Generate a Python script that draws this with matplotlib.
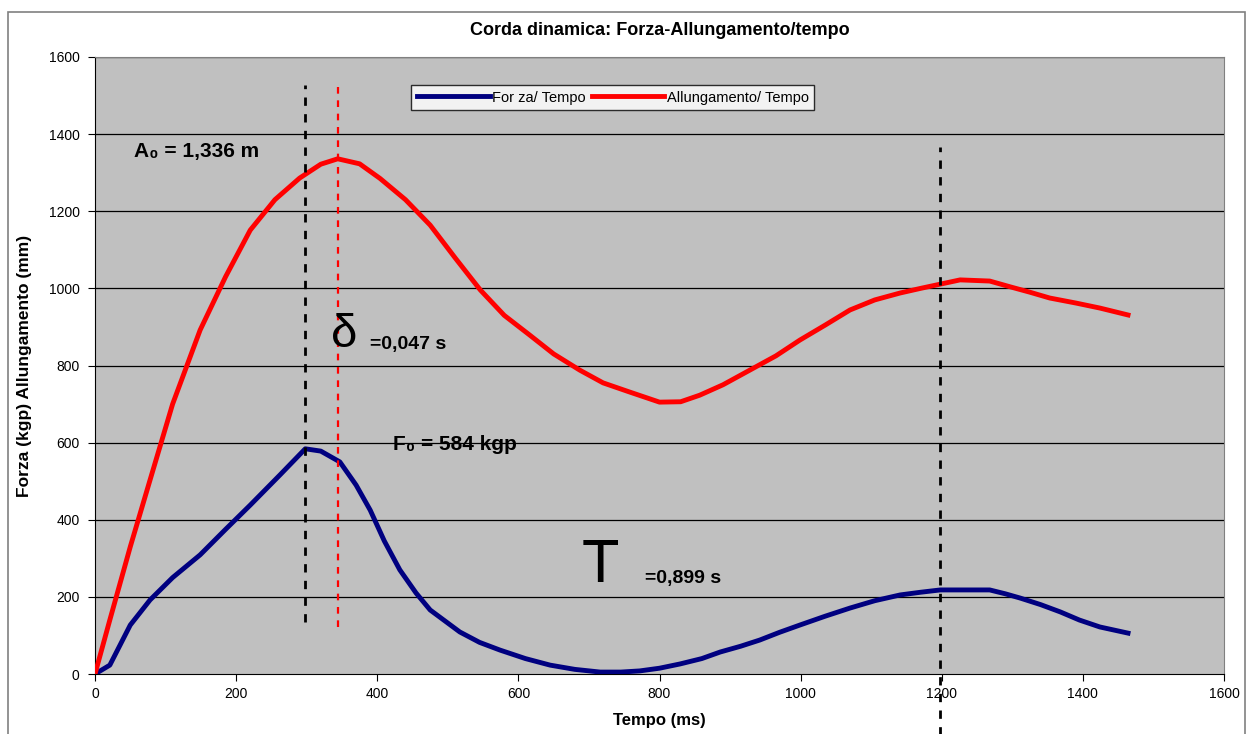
import matplotlib
matplotlib.use("Agg")
import matplotlib.pyplot as plt
from matplotlib.patches import Rectangle

plt.rcParams["font.family"] = ["Liberation Sans", "DejaVu Sans"]

# allungamento / tempo (red)
t_all = [0, 21, 50, 78, 110, 149, 185, 220, 255, 290, 320, 344, 375, 404, 440,
         475, 510, 546, 580, 616, 650, 687, 720, 758, 800, 830, 857, 890, 928,
         965, 999, 1035, 1070, 1105, 1141, 1170, 1198, 1226, 1268, 1297, 1325,
         1353, 1390, 1424, 1464]
allung = [0, 140, 330, 503, 700, 892, 1030, 1151, 1230, 1286, 1322, 1336, 1323,
          1285, 1230, 1164, 1080, 996, 930, 879, 830, 788, 755, 731, 705, 706,
          723, 750, 788, 825, 866, 905, 944, 970, 988, 1000, 1011, 1022, 1019,
          1004, 990, 975, 962, 949, 931]

# forza / tempo (blue)
t_forza = [0, 21, 50, 78, 110, 149, 185, 220, 262, 298, 320, 347, 370, 390,
           410, 432, 455, 475, 517, 545, 574, 610, 645, 680, 716, 745, 772, 800,
           829, 860, 886, 915, 942, 970, 999, 1035, 1070, 1105, 1141, 1170, 1198,
           1230, 1268, 1290, 1311, 1340, 1368, 1395, 1424, 1464]
forza = [0, 23, 127, 192, 250, 309, 375, 438, 516, 584, 578, 550, 490, 425,
         345, 270, 210, 166, 109, 82, 62, 40, 23, 12, 5, 5, 8, 15, 26, 40, 57,
         72, 88, 108, 127, 150, 171, 190, 205, 212, 218, 218, 218, 208, 197, 180,
         161, 140, 122, 106]

x_ticks = [0, 200, 400, 600, 800, 1000, 1200, 1400, 1600]
y_ticks = [0, 200, 400, 600, 800, 1000, 1200, 1400, 1600]

fig = plt.figure(figsize=(12.51, 7.34), dpi=100)
ax = fig.add_axes([95 / 1251, 60 / 734, 1129 / 1251, 617 / 734])
ax.set_facecolor("#c0c0c0")

fig.patches.append(Rectangle((8 / 1251, -0.01), 1237 / 1251, 1 - 12 / 734 + 0.01,
                             transform=fig.transFigure, fill=False,
                             edgecolor="#808080", linewidth=1.2))

for y in y_ticks[1:]:
    ax.axhline(y, color="black", linewidth=0.9, zorder=1)

ax.plot(t_forza, forza, color="#000080", linewidth=3.5, zorder=3,
        label="For za/ Tempo")
ax.plot(t_all, allung, color="#ff0000", linewidth=3.5, zorder=3,
        label="Allungamento/ Tempo")

# marker lines
ax.plot([298, 298], [135, 1527], color="black", linestyle=(0, (3, 3)),
        linewidth=2, zorder=4)
ax.plot([344, 344], [122, 1527], color="#ff0000", linestyle=(0, (3, 3)),
        linewidth=1.6, zorder=4)
ax.plot([1198, 1198], [-160, 1367], color="black", linestyle=(0, (3, 3)),
        linewidth=2, zorder=4, clip_on=False)

ax.set_xlim(0, 1600)
ax.set_ylim(0, 1600)
ax.set_xticks(x_ticks)
ax.set_yticks(y_ticks)
ax.tick_params(direction="out", length=5, labelsize=10, pad=4, axis="x")
ax.tick_params(direction="out", length=5, labelsize=10, pad=6, axis="y")
for s in ["top", "right"]:
    ax.spines[s].set_color("#808080")
for s in ["left", "bottom"]:
    ax.spines[s].set_color("black")

ax.set_title("Corda dinamica: Forza-Allungamento/tempo", fontsize=13,
             fontweight="bold", pad=16)
ax.set_xlabel("Tempo (ms)", fontsize=12, fontweight="bold", labelpad=9)
ax.set_ylabel("Forza (kgp) Allungamento (mm)", fontsize=12.5,
              fontweight="bold", labelpad=12)

leg = ax.legend(loc="upper left", bbox_to_anchor=(0.280, 0.955), ncol=2,
                frameon=True, fancybox=False, fontsize=10.5, handlelength=5,
                handletextpad=0.15, columnspacing=0.4, borderpad=0.4,
                borderaxespad=0)
leg.get_frame().set_edgecolor("black")
leg.get_frame().set_facecolor("white")
leg.get_frame().set_linewidth(1)

ax.text(55, 1355, "A₀ = 1,336 m", fontsize=15, fontweight="bold",
        va="center", ha="left", zorder=5)
ax.text(334, 880, "δ", fontsize=34, va="center", ha="left", zorder=5)
ax.text(390, 855, "=0,047 s", fontsize=14, fontweight="bold", va="center",
        ha="left", zorder=5)
ax.text(423, 595, "F₀ = 584 kgp", fontsize=15, fontweight="bold",
        va="center", ha="left", zorder=5)
ax.text(690, 280, "T", fontsize=44, va="center", ha="left", zorder=5)
ax.text(780, 247, "=0,899 s", fontsize=14, fontweight="bold", va="center",
        ha="left", zorder=5)

fig.savefig("out.png", dpi=100)
